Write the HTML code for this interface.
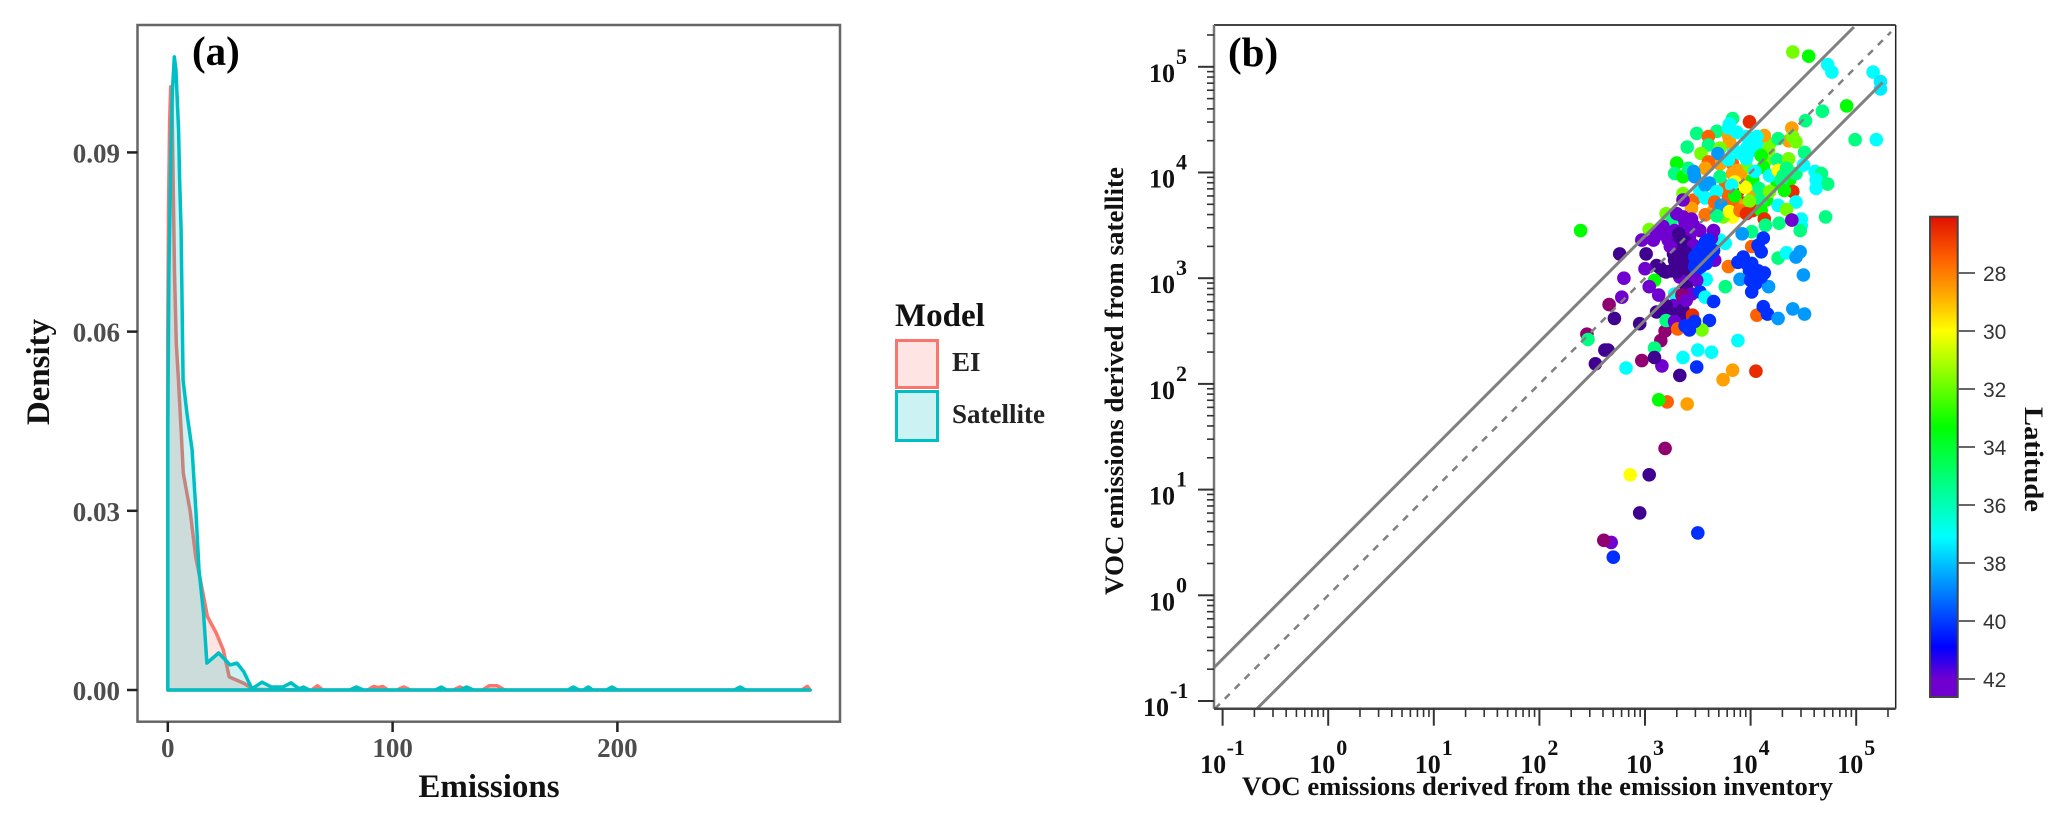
<!DOCTYPE html>
<html>
<head>
<meta charset="utf-8">
<title>VOC emissions comparison</title>
<style>
html,body{margin:0;padding:0;background:#fff;width:2067px;height:827px;overflow:hidden}
svg{display:block}
text{font-family:"Liberation Serif",serif;font-weight:bold}
</style>
</head>
<body>
<svg id="fig" width="2067" height="827" viewBox="0 0 2067 827" xmlns="http://www.w3.org/2000/svg">
  <defs><linearGradient id="barGrad" x1="0" y1="0" x2="0" y2="1"></linearGradient></defs>
  <g id="panelA"></g>
  <g id="legend">
    <text x="895" y="326" font-size="33" fill="#111">Model</text>
    <rect x="896.5" y="340.5" width="41" height="47" fill="#f8766d" fill-opacity="0.2" stroke="#f8766d" stroke-width="3"/>
    <rect x="896.5" y="391.5" width="41" height="49" fill="#00bfc4" fill-opacity="0.2" stroke="#00bfc4" stroke-width="3"/>
    <text x="952" y="371" font-size="27" fill="#222">EI</text>
    <text x="952" y="423" font-size="27" fill="#222">Satellite</text>
  </g>
  <g id="panelB"></g>
</svg>
<script>
// ---------- Panel (a): density curves ----------
const densityTicks = [0, 0.03, 0.06, 0.09];
const densityTickLabels = ['0.00', '0.03', '0.06', '0.09'];
const emissionTicks = [0, 100, 200];
const eiEmissions = [0,0,0.3,0.8,1.3,1.8,2.2,3,3.8,4.7,5.9,6.9,9.9,12.4,14.5,17.6,21.6,24.7,27.3,33.9,38,
  64,66.5,69,89,91.6,93.5,95.5,98,102,104.9,108,127,130,133,140,143,146.5,150,282,284.5,285.7];
const eiDensity = [0,0.06,0.08,0.095,0.101,0.1,0.09,0.07,0.058,0.052,0.0435,0.0363,0.03,0.0223,0.0184,0.0123,0.0095,0.0067,0.0022,0.0011,0.0001,
  0,0.0007,0,0,0.0006,0.0004,0.0006,0,0,0.0005,0,0,0.0005,0,0,0.0007,0.0007,0,0,0.0006,0];
const satEmissions = [0,0,0.5,1.4,2,2.9,3.6,4.8,5.3,5.9,6.8,8.5,10.8,12.5,13.9,15.9,17.4,22.6,27.7,30.8,33.9,37.4,41.9,46.1,51.2,54.8,58.4,60.4,63,
  81,83.9,87,119,121.6,124,130,132.9,136,178,180.4,183,185,187,189,195,197.6,200,252,254.7,257,285.7];
const satDensity = [0,0.0447,0.07,0.09,0.1,0.106,0.104,0.0937,0.085,0.077,0.0519,0.0464,0.0402,0.03,0.0201,0.0129,0.0045,0.0062,0.0042,0.0045,0.003,0.0002,0.0013,0.0005,0.0005,0.0012,0.0002,0.0005,0,
  0,0.0005,0,0,0.0005,0,0,0.0005,0,0,0.0005,0,0,0.0005,0,0,0.0005,0,0,0.0005,0,0];

// ---------- Panel (b): scatter (log10 values) ----------
const axisExponents = [-1,0,1,2,3,4,5];
const latitudeTicks = [28,30,32,34,36,38,40,42];
const diagonalFactors = [2.5, 1, 0.4];
const logInventory = [
3.83,3.96,4.15,3.71,3.83,3.96,4.12,4.25,3.76,3.88,
4.02,4.15,4.09,3.65,3.83,3.93,3.74,4.02,3.46,3.52,
4.25,4.37,4.43,4.34,3.87,3.83,4.09,4.02,4.18,3.96,4.07,
4.40,4.55,4.73,4.77,4.91,4.68,4.52,4.99,5.19,5.16,
5.23,5.23,4.71,3.99,3.83,3.49,3.68,3.60,4.13,4.39,
4.36,4.26,3.79,3.80,3.40,3.60,3.53,3.71,4.17,4.10,
4.40,4.43,3.69,4.51,4.36,3.60,3.30,3.57,3.80,3.79,
3.87,4.06,4.01,3.90,3.96,3.79,4.50,4.61,4.67,4.62,
4.73,4.62,3.28,3.36,3.41,3.46,3.47,3.87,3.71,3.83,
3.91,4.02,4.04,4.18,4.26,4.34,4.31,4.29,3.85,3.95,
4.08,3.82,4.40,4.32,4.18,3.61,3.57,3.68,3.57,3.36,
3.79,3.85,3.99,3.66,3.72,4.26,4.43,4.34,3.44,3.57,
3.68,3.80,3.90,3.96,4.10,4.13,4.14,4.27,4.48,4.48,
4.47,4.39,4.01,3.92,3.20,3.26,3.04,2.39,3.71,3.76,
3.30,3.42,3.52,3.28,3.16,3.46,3.36,3.17,3.25,3.33,
3.11,3.39,3.33,3.46,3.36,3.27,3.42,
3.36,3.36,3.44,3.38,3.47,3.17,3.11,2.97,3.08,3.22,
3.65,3.63,3.32,3.39,3.31,3.46,3.24,3.38,2.76,3.01,
3.28,3.00,3.14,3.20,3.30,3.39,3.09,2.80,3.04,3.13,
2.78,2.66,2.71,2.95,2.45,3.19,3.15,3.66,3.53,3.61,
3.57,3.50,3.58,3.47,3.50,3.79,3.88,3.96,3.99,4.04,
4.13,4.05,4.01,4.17,3.90,4.50,4.12,4.01,4.07,4.10,
3.55,3.52,3.61,3.47,3.53,3.60,3.65,3.49,3.93,4.01,
4.07,4.00,4.10,
4.26,4.34,4.43,4.47,3.76,3.58,3.49,3.39,3.44,3.52,
3.57,3.28,3.35,3.35,3.65,3.27,3.19,3.11,3.22,3.33,
3.20,3.27,3.36,3.39,3.24,
3.45,3.20,3.28,3.31,3.42,3.44,3.61,3.54,4.06,4.12,
3.42,3.47,3.38,
4.16,4.26,4.40,4.51,3.88,2.46,3.09,2.62,2.65,2.53,
2.82,2.97,3.16,3.09,3.36,3.50,3.63,3.49,3.33,3.83,
3.74,4.05,3.21,3.13,3.40,3.19,2.86,3.04,2.95,2.68,
2.61,2.70,3.50];
const logSatellite = [
4.24,4.23,4.12,4.08,4.08,4.05,4.05,4.12,3.87,3.82,
3.77,3.74,3.74,3.64,3.58,3.71,3.58,3.64,3.74,3.83,
3.91,3.93,3.99,4.05,3.71,3.74,4.24,4.21,4.27,4.34,4.31,
5.14,5.10,5.02,4.95,4.63,4.58,4.49,4.31,4.31,4.95,
4.86,4.79,3.58,4.48,4.51,4.37,4.39,4.34,4.35,4.42,
4.30,4.32,4.35,4.29,4.24,4.26,4.18,4.23,4.21,4.16,
4.34,4.29,4.18,4.19,4.13,4.10,4.09,4.04,4.46,4.42,
4.38,4.34,4.27,4.18,4.13,4.12,4.07,4.01,3.99,3.93,
3.89,3.85,3.99,3.96,4.04,4.01,3.96,4.02,3.96,3.99,
3.96,3.93,4.01,3.97,4.02,4.04,3.97,3.93,3.91,3.86,
3.85,3.88,3.82,3.83,3.82,3.90,3.88,3.82,3.76,3.80,
3.77,3.78,3.73,3.72,3.69,3.69,3.72,3.65,3.66,3.60,
3.59,3.63,3.64,3.61,3.64,3.56,3.50,3.52,3.56,3.50,
3.45,3.55,3.44,3.42,3.61,3.56,3.46,3.45,3.36,3.33,
3.61,3.49,3.45,3.45,3.42,3.23,3.17,3.07,3.07,3.14,
3.12,3.01,3.01,3.01,3.28,3.23,3.39,
3.74,3.58,3.56,3.52,3.49,3.49,3.42,3.36,3.36,3.36,
3.45,3.38,3.42,3.34,3.33,3.31,3.30,3.25,3.23,3.23,
3.17,3.09,3.10,3.06,3.06,3.09,2.98,3.00,2.92,2.84,
2.82,2.75,2.62,2.57,2.47,2.50,2.41,3.17,3.23,3.30,
3.34,3.17,3.14,3.11,3.24,3.11,3.15,3.14,3.07,3.03,
3.05,2.95,2.87,2.92,2.99,3.03,3.38,3.30,3.31,3.25,
3.30,3.20,3.22,3.20,3.11,3.36,3.26,3.07,3.20,3.14,
3.07,2.98,3.01,
3.19,3.24,3.20,3.25,2.92,2.99,2.98,2.92,2.85,2.87,
2.82,2.85,2.84,2.76,2.78,2.74,2.70,2.68,2.67,2.63,
2.74,2.66,2.70,2.79,2.59,
2.65,2.60,2.59,2.52,2.55,2.54,2.60,2.51,2.65,2.73,
2.51,2.59,2.55,
2.66,2.62,2.71,2.66,2.41,2.42,2.34,2.32,2.32,2.19,
2.15,2.22,2.17,2.25,2.25,2.32,2.30,2.16,2.08,2.13,
2.04,2.12,1.83,1.85,1.81,1.39,1.14,1.14,0.78,0.50,
0.52,0.36,0.59];
const latitude = [
37.1,37.1,31.8,28.6,27.5,31.8,33.3,35.2,27.5,26.5,
28.6,33.3,35.2,28.6,30,26.5,31.8,26.5,27.5,37.1,
33.3,33.3,35.2,31.8,28.6,27.5,37.1,37.1,31.8,37.1,37.1,
31.8,33.3,37.1,37.1,33.3,35.2,35.2,35.2,37.1,37.1,
37.4,37.4,35.2,26.5,35.2,35.2,35.2,27.5,28.6,28.6,
28.6,35.2,28.6,28.6,35.2,35.2,31.8,31.8,31.8,33.3,
31.8,31.8,38.6,35.2,31.8,27.5,33.3,28.6,37.1,37.1,
37.1,37.1,37.1,37.1,37.1,37.1,37.1,37.1,35.2,37.1,
35.2,37.1,35.2,33.3,35.2,38.6,38.6,28.6,35.2,28.6,
28.6,33.3,37.1,37.1,30,35.2,35.2,35.2,30,30,
35.2,37.1,26.5,33.3,31.8,38.6,38.6,37.1,37.1,31.8,
27.5,33.3,31.8,27.5,38.6,37.1,37.1,31.8,28.6,27.8,
35.2,30,27.8,26.5,33.3,26.5,35.2,35.2,37.1,37.1,
35.2,42,35.2,38.6,31.8,35.2,31.8,33.3,37.1,37.1,
42,42,42,42,42,42,42.5,42.5,42.5,42.5,
42.5,42,42,42,42.5,42.5,42,
42,42,42,42,42,42,42,42,42,42,
42,42,42.5,42.5,42.5,42,42,42.5,42.5,42.5,
42.5,42,42.5,42.5,42.5,42.5,33.3,42,42,42,
42,43,42.5,42.5,43,43,43,42,40.2,40.2,
40.2,40.2,40.2,40.2,40.2,27.8,40.2,40.2,40.2,40.2,
40.2,40.2,40.2,38.6,38.6,38.6,40.2,27.5,40.2,40.2,
40.2,40.2,40.2,40.2,40.2,40.2,40.2,40.2,40.2,40.2,
40.2,40.2,40.2,
35.2,37.1,38.6,38.6,35.2,37.1,42,42.5,42,40.2,
37.1,37.1,43,43,40.2,42,42,42.5,42.5,42.5,
42.5,42.5,42.5,42,42,
26.5,35.2,42,27.5,40.2,40.2,40.2,31.8,27.5,40.2,
40.2,40.2,40.2,
40.2,38.6,38.6,38.6,37.1,35.2,35.2,42.5,42.5,42.5,
37.1,43,42,42.5,37.1,37.1,37.1,40.2,42.5,28.6,
28.6,26.5,27.5,33.3,28.6,43,30,42.5,42.5,42,
43,40.2,40.2];

const colorStopLat = [26,27.5,28.6,30,33.3,37.1,40.9,42,42.5,43];
const colorStopHex = ['#e01000','#ff6000','#ffa000','#ffff00','#00ff00','#00ffff','#0000ff','#7000d0','#400090','#900070'];

// ---------- helpers ----------
const NS = 'http://www.w3.org/2000/svg';
function mk(parent, tag, attrs, txt){
  const el = document.createElementNS(NS, tag);
  for (const k in attrs) el.setAttribute(k, attrs[k]);
  if (txt !== undefined) el.textContent = txt;
  parent.appendChild(el);
  return el;
}
function hexRgb(h){ return [1,3,5].map(i => parseInt(h.substr(i,2),16)); }
function latColor(v){
  if (v <= colorStopLat[0]) return colorStopHex[0];
  for (let i = 1; i < colorStopLat.length; i++){
    if (v <= colorStopLat[i]){
      const t = (v - colorStopLat[i-1]) / (colorStopLat[i] - colorStopLat[i-1]);
      const a = hexRgb(colorStopHex[i-1]), b = hexRgb(colorStopHex[i]);
      return 'rgb(' + a.map((c,j) => Math.round(c + (b[j]-c)*t)).join(',') + ')';
    }
  }
  return colorStopHex[colorStopHex.length-1];
}

// ---------- draw panel (a) ----------
const A = document.getElementById('panelA');
const ax = v => 167.8 + v * 2.248;
const ay = v => 690 - v * 5973;
const aBox = {l:137.5, r:840, t:25, b:721.7};

function densityPath(xs, ys){
  let d = '';
  xs.forEach((x,i) => { d += (i ? 'L' : 'M') + ax(x).toFixed(1) + ' ' + ay(ys[i]).toFixed(1); });
  return d + 'Z';
}
const eiArea = mk(A, 'path', {d: densityPath(eiEmissions, eiDensity), fill:'#f8766d', 'fill-opacity':0.2, stroke:'#f8766d', 'stroke-width':3.5, 'stroke-linejoin':'round'});


const satArea = mk(A, 'path', {d: densityPath(satEmissions, satDensity), fill:'#00bfc4', 'fill-opacity':0.2, stroke:'#00bfc4', 'stroke-width':3.5, 'stroke-linejoin':'round'});



const aFrame = mk(A, 'rect', {x:aBox.l, y:aBox.t, width:aBox.r-aBox.l, height:aBox.b-aBox.t, fill:'none', stroke:'#666', 'stroke-width':2.5});



densityTicks.forEach((v,i) => {
  const t = mk(A, 'line', {x1:127, x2:aBox.l, y1:ay(v), y2:ay(v), stroke:'#222', 'stroke-width':2.5});
  
  
  const l = mk(A, 'text', {x:120, y:ay(v)+10, 'text-anchor':'end', 'font-size':27, fill:'#4d4d4d'}, densityTickLabels[i]);
  
  
});
emissionTicks.forEach(v => {
  const t = mk(A, 'line', {x1:ax(v), x2:ax(v), y1:aBox.b, y2:732, stroke:'#222', 'stroke-width':2.5});
  
  
  const l = mk(A, 'text', {x:ax(v), y:757, 'text-anchor':'middle', 'font-size':27, fill:'#4d4d4d'}, String(v));
  
  
});
const aXTitle = mk(A, 'text', {x:489, y:797, 'text-anchor':'middle', 'font-size':33, fill:'#111'}, 'Emissions');


const aYTitle = mk(A, 'text', {transform:'translate(49,372) rotate(-90)', 'text-anchor':'middle', 'font-size':33, fill:'#111'}, 'Density');


const aTag = mk(A, 'text', {x:192, y:65, 'font-size':41, fill:'#000'}, '(a)');



// ---------- draw panel (b) ----------
const B = document.getElementById('panelB');
const bx = v => 1328.2 + v * 105.6;
const by = v => 595.3 - v * 105.7;
const bBox = {l:1214, r:1895.7, t:25, b:708.7};
const minorSteps = [2,3,4,5,6,7,8,9];

logInventory.forEach((v,i) => {
  const c = mk(B, 'circle', {cx:bx(v).toFixed(1), cy:by(logSatellite[i]).toFixed(1), r:6.8, fill:latColor(latitude[i])});
  
  
});

// diagonal reference lines
const xStart = -1.08;
diagonalFactors.forEach(f => {
  const off = Math.log10(f);
  const dashed = f === 1;
  let x1 = xStart, y1 = x1 + off, x2 = dashed ? 5.33 : 5.25, y2 = x2 + off;
  const yMin = (595.3 - bBox.b) / 105.7, yMax = (595.3 - bBox.t - 2) / 105.7;
  if (y1 < yMin){ y1 = yMin; x1 = y1 - off; }
  if (y2 > yMax){ y2 = yMax; x2 = y2 - off; }
  const ln = mk(B, 'line', {x1:bx(x1), y1:by(y1), x2:bx(x2), y2:by(y2), stroke:'#808080', 'stroke-width':dashed ? 2.5 : 3, 'stroke-dasharray':dashed ? '7 7' : 'none'});
  
  
});

// frame
const bTop = mk(B, 'line', {x1:bBox.l, x2:bBox.r, y1:bBox.t, y2:bBox.t, stroke:'#444', 'stroke-width':2});


const bRight = mk(B, 'line', {x1:bBox.r, x2:bBox.r, y1:bBox.t, y2:bBox.b, stroke:'#222', 'stroke-width':1.5});


const bLeft = mk(B, 'line', {x1:bBox.l, x2:bBox.l, y1:bBox.t, y2:bBox.b, stroke:'#777', 'stroke-width':2.5});


const bBottom = mk(B, 'line', {x1:bBox.l, x2:bBox.r, y1:bBox.b, y2:bBox.b, stroke:'#444', 'stroke-width':2.5});



// ticks
axisExponents.forEach(e => {
  const neg = e < 0;
  const ty = by(e), tx = bx(e);
  const yt = mk(B, 'line', {x1:1198, x2:bBox.l, y1:ty, y2:ty, stroke:'#333', 'stroke-width':2});
  
  
  const xt = mk(B, 'line', {x1:tx, x2:tx, y1:bBox.b, y2:725.7, stroke:'#333', 'stroke-width':2});
  
  
  minorSteps.forEach(m => {
    const lg = e + Math.log10(m);
    if (by(lg) > bBox.t){
      const my = mk(B, 'line', {x1:1207, x2:bBox.l, y1:by(lg), y2:by(lg), stroke:'#333', 'stroke-width':1.6});
      
      
    }
    if (bx(lg) < bBox.r){
      const mx = mk(B, 'line', {x1:bx(lg), x2:bx(lg), y1:bBox.b, y2:717, stroke:'#333', 'stroke-width':1.6});
      
      
    }
  });
  const yBase = mk(B, 'text', {x:neg ? 1169 : 1175, y:ty+15, 'text-anchor':'end', 'font-size':26, fill:'#111'}, '10');
  
  
  const ySup = mk(B, 'text', {x:neg ? 1170 : 1176, y:ty-3, 'font-size':22, fill:'#111'}, String(e));
  
  
  const xBase = mk(B, 'text', {x:neg ? tx+3.5 : tx+7, y:773, 'text-anchor':'end', 'font-size':26, fill:'#111'}, '10');
  
  
  const xSup = mk(B, 'text', {x:neg ? tx+4 : tx+8, y:755, 'font-size':22, fill:'#111'}, String(e));
  
  
});

const bXTitle = mk(B, 'text', {x:1242, y:795, 'font-size':26, fill:'#111', textLength:591, lengthAdjust:'spacingAndGlyphs'}, 'VOC emissions derived from the emission inventory');


const bYTitle = mk(B, 'text', {transform:'translate(1123,595) rotate(-90)', 'font-size':26, fill:'#111', textLength:428, lengthAdjust:'spacingAndGlyphs'}, 'VOC emissions derived from satellite');


const bTag = mk(B, 'text', {x:1228, y:66, 'font-size':41, fill:'#000'}, '(b)');



// colour bar
const barTop = 216.7, barBottom = 697, barLeft = 1930, barRight = 1957.7;
const cy = v => 273 + (v - 28) * 29;
const grad = document.getElementById('barGrad');
colorStopLat.forEach((v,i) => {
  if (v > 42) return;
  const off = Math.max(0, (cy(v) - barTop) / (barBottom - barTop));
  mk(grad, 'stop', {offset:off.toFixed(4), 'stop-color':colorStopHex[i]});
});
const bar = mk(B, 'rect', {x:barLeft, y:barTop, width:barRight-barLeft, height:barBottom-barTop, fill:'url(#barGrad)', stroke:'#444', 'stroke-width':2});


latitudeTicks.forEach(v => {
  const t = mk(B, 'line', {x1:barRight, x2:1975, y1:cy(v), y2:cy(v), stroke:'#666', 'stroke-width':2});
  
  
  const l = mk(B, 'text', {x:1983, y:cy(v)+8, 'font-size':21, fill:'#333', style:'font-family:\'Liberation Sans\',sans-serif;font-weight:normal'}, String(v));
  
  
});
const barTitle = mk(B, 'text', {transform:'translate(2025,407) rotate(90)', 'font-size':26, fill:'#111', textLength:105, lengthAdjust:'spacingAndGlyphs'}, 'Latitude');


</script>
</body>
</html>
